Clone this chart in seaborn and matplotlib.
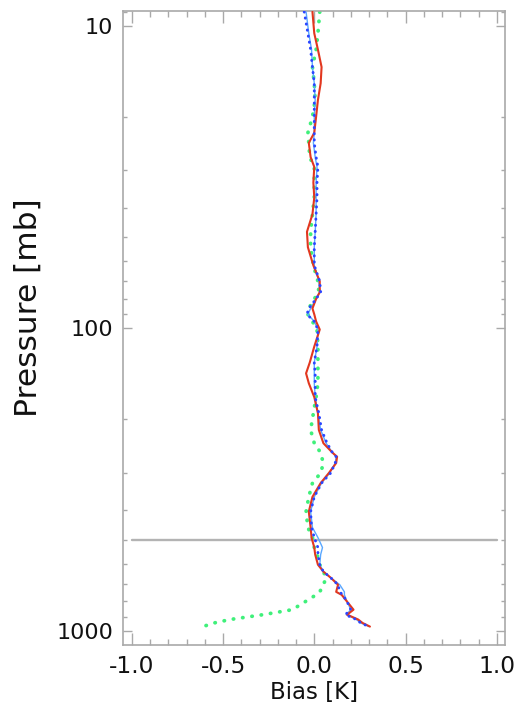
import numpy as np
import pandas as pd
import matplotlib
matplotlib.use("Agg")
import matplotlib.pyplot as plt
from matplotlib.ticker import LogLocator, NullFormatter, MultipleLocator
import seaborn as sns

# Pressure levels [mb] and temperature bias profiles [K]
pressure = [9, 10.6, 12, 13.7, 15.5, 17.6, 20, 22.6, 24.4, 27.2, 29.3, 33, 37, 42,
            48, 54, 62, 70, 76, 80, 86, 90, 95, 101, 115, 130, 141, 152, 169, 191,
            217, 240, 258, 266, 279, 301, 325, 361, 404, 456, 492, 531, 560, 605,
            638, 668, 705, 744, 761, 802, 852, 885, 918, 943, 969]

bias_red = [-0.01, 0.0, 0.02, 0.04, 0.035, 0.02, 0.01, 0.0, -0.03, -0.02, 0.0, -0.005,
            0.0, -0.01, -0.04, -0.035, -0.005, 0.03, 0.03, 0.01, -0.01, 0.0, 0.01, 0.03,
            0.0, -0.025, -0.045, -0.03, 0.0, 0.02, 0.025, 0.05, 0.1, 0.125, 0.12, 0.08,
            0.035, -0.01, -0.03, -0.02, -0.015, 0.0, 0.005, 0.02, 0.05, 0.09, 0.13, 0.12,
            0.15, 0.18, 0.215, 0.18, 0.24, 0.265, 0.305]

bias_blue = [-0.055, -0.035, -0.02, -0.01, 0.0, 0.0, 0.0, 0.0, 0.0, 0.01, 0.02, 0.015,
             0.015, 0.01, 0.005, 0.0, 0.0, 0.03, 0.035, 0.01, -0.03, -0.04, 0.0, 0.02,
             0.015, 0.0, 0.005, 0.005, 0.005, 0.025, 0.04, 0.07, 0.1, 0.12, 0.115, 0.09,
             0.04, 0.0, -0.02, -0.015, 0.0, 0.02, 0.02, 0.03, 0.05, 0.09, 0.13, 0.14,
             0.155, 0.18, 0.2, 0.17, 0.23, 0.255, 0.3]

bias_lightblue = [-0.045, -0.03, -0.015, -0.01, 0.0, 0.005, 0.0, 0.0, -0.005, 0.005,
                  0.015, 0.01, 0.01, 0.01, 0.005, 0.0, 0.0, 0.025, 0.03, 0.01, -0.02,
                  -0.035, 0.0, 0.02, 0.015, 0.0, 0.0, 0.0, 0.005, 0.02, 0.035, 0.065,
                  0.1, 0.12, 0.115, 0.085, 0.04, 0.0, -0.02, -0.01, 0.02, 0.045, 0.035,
                  0.03, 0.05, 0.09, 0.14, 0.165, 0.165, 0.18, 0.2, 0.175, 0.23, 0.255, 0.3]

bias_green = [0.03, 0.02, 0.01, -0.01, 0.0, 0.005, -0.01, -0.035, -0.03, -0.025, 0.0,
              0.0, 0.0, -0.01, -0.02, -0.02, -0.005, 0.02, 0.025, 0.0, -0.03, -0.035,
              -0.01, 0.015, 0.02, 0.02, 0.02, 0.02, 0.01, -0.005, -0.02, 0.0, 0.035,
              0.04, 0.05, 0.035, -0.01, -0.03, -0.045, -0.035, -0.01, 0.0, 0.015, 0.03,
              0.05, 0.065, 0.05, 0.03, 0.01, -0.05, -0.12, -0.28, -0.46, -0.55, -0.61]

ref_level = 500
xticks = [-1.0, -0.5, 0.0, 0.5, 1.0]
xticklabels = ["-1.0", "-0.5", "0.0", "0.5", "1.0"]
yticks = [10, 100, 1000]
yticklabels = ["10", "100", "1000"]

df = pd.DataFrame({
    "pressure": pressure,
    "red": bias_red,
    "blue": bias_blue,
    "lightblue": bias_lightblue,
    "green": bias_green,
})

sns.set_style("ticks")
plt.rcParams["font.family"] = ["DejaVu Sans"]

axis_grey = "#a9a9a9"
text_col = "#111111"

fig = plt.figure(figsize=(5.14, 7.17), dpi=100)
ax = fig.add_axes([0.2393, 0.1004, 0.7432, 0.8843])

# 500 mb reference line
ax.plot([-1.0, 1.0], [ref_level, ref_level], color="#b3b3b3", lw=1.7, zorder=1)

sns.lineplot(data=df, x="green", y="pressure", orient="y", estimator=None,
             ax=ax, color="#3ff07a", lw=2.7, linestyle=(0, (0.1, 2.4)),
             dash_capstyle="round", zorder=2)
sns.lineplot(data=df, x="lightblue", y="pressure", orient="y", estimator=None,
             ax=ax, color="#5aa8ff", lw=1.0, zorder=3)
sns.lineplot(data=df, x="red", y="pressure", orient="y", estimator=None,
             ax=ax, color="#e2371f", lw=1.5, zorder=4)
sns.lineplot(data=df, x="blue", y="pressure", orient="y", estimator=None,
             ax=ax, color="#2b45ff", lw=2.1, linestyle=(0, (0.1, 2.0)),
             dash_capstyle="round", zorder=5)

ax.set_yscale("log")
ax.set_xlim(-1.048, 1.045)
ax.set_ylim(1115, 8.94)

ax.set_xticks(xticks, labels=xticklabels)
ax.xaxis.set_minor_locator(MultipleLocator(0.1))
ax.set_yticks(yticks, labels=yticklabels)
ax.yaxis.set_minor_locator(LogLocator(base=10, subs=np.arange(2, 10)))
ax.yaxis.set_minor_formatter(NullFormatter())

ax.tick_params(axis="both", which="both", direction="in", top=True, right=True,
               color=axis_grey, labelcolor=text_col)
ax.tick_params(axis="x", which="major", length=8.6, width=1.0, pad=7, labelsize=16.8)
ax.tick_params(axis="x", which="minor", length=4.3, width=1.0)
ax.tick_params(axis="y", which="major", length=6.5, width=1.0, pad=7, labelsize=16)
ax.tick_params(axis="y", which="minor", length=2.9, width=1.0)

for side in ["left", "right", "top", "bottom"]:
    ax.spines[side].set_color(axis_grey)
    ax.spines[side].set_linewidth(1.2)

ax.set_xlabel("Bias [K]", fontsize=16.5, color=text_col, labelpad=2)
ax.set_ylabel("Pressure [mb]", fontsize=22.5, color=text_col)
ax.yaxis.set_label_coords(-0.21, 0.532)

fig.savefig("out.png", dpi=100, facecolor="white")
